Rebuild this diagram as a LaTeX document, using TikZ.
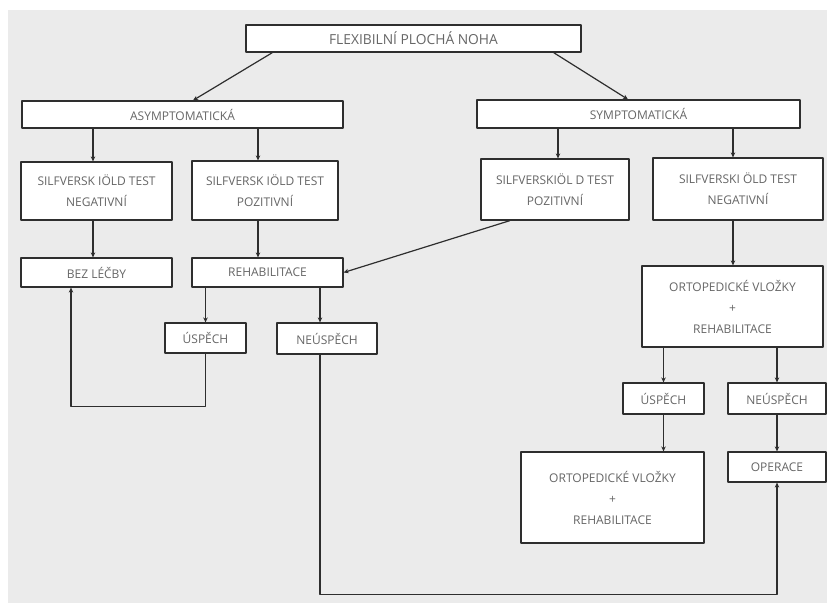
\documentclass[tikz,border=0pt]{standalone}
\usepackage{fontspec}
\setmainfont{Open Sans}
\usetikzlibrary{arrows.meta}
\definecolor{bg}{HTML}{EBEBEB}
\definecolor{txt}{HTML}{666666}
\definecolor{ln}{HTML}{2E2E2E}
\begin{document}
\begin{tikzpicture}[x=1pt,y=-1pt,line join=round,line width=1.2pt,>={Stealth[length=5pt,width=4.5pt]}]
	\tikzset{every node/.style={font=\fontsize{12}{21}\selectfont,text=txt},
		box/.style={draw=ln,fill=white,line width=1.2pt,align=center,inner sep=0pt},
		arr/.style={->,draw=ln}}
	\def\bx(#1,#2,#3,#4,#5)#6{\node[box,minimum width=#4pt,minimum height=#5pt] (#1) at (#2,#3) {#6};}
				\useasboundingbox (0,0) rectangle (827,606);
				\fill[bg] (8,10) rectangle (827,603);
	% boxes
	\bx(top,413.5,38.5,335,27){\fontsize{13.8}{21}\selectfont FLEXIBILNÍ PLOCHÁ NOHA}
	\bx(asym,182.5,114.5,321,27){ASYMPTOMATICKÁ}
	\bx(sym,638.5,114,323,28){SYMPTOMATICKÁ}
	\bx(negL,96.5,191,151,58){SILFVERSK IÖLD TEST\\NEGATIVNÍ}
	\bx(pozL,265,190.5,146,59){SILFVERSK IÖLD TEST\\POZITIVNÍ}
	\bx(pozR,555,189.5,148,61){SILFVERSKIÖL D TEST\\POZITIVNÍ}
	\bx(negR,738,189,170,62){SILFVERSKI ÖLD TEST\\NEGATIVNÍ}
	\bx(bez,96.5,272.5,151,29){BEZ LÉČBY}
	\bx(rehab,267.5,272.5,151,29){REHABILITACE}
	\bx(ortoA,732.5,306.5,181,81){ORTOPEDICKÉ VLOŽKY\\+\\REHABILITACE}
	\bx(uspL,205.5,338,81,30){ÚSPĚCH}
	\bx(neuspL,327,338.5,100,31){NEÚSPĚCH}
	\bx(uspR,663.5,398.5,81,31){ÚSPĚCH}
	\bx(neuspR,777,398.5,98,31){NEÚSPĚCH}
	\bx(ortoB,612.5,497.5,183,91){ORTOPEDICKÉ VLOŽKY\\+\\REHABILITACE}
	\bx(oper,777,467,98,30){OPERACE}
	% arrows
	\draw[arr] ([xshift=27pt]top.south west)--([xshift=10.5pt]asym.north);
	\draw[arr] ([xshift=-28pt]top.south east)--([xshift=-10.5pt]sym.north);
	\draw[arr] ([xshift=-3.5pt]negL.north |- asym.south)--([xshift=-3.5pt]negL.north);
	\draw[arr] ([xshift=-7pt]pozL.north |- asym.south)--([xshift=-7pt]pozL.north);
	\draw[arr] ([xshift=3pt]pozR.north |- sym.south)--([xshift=3pt]pozR.north);
	\draw[arr] ([xshift=-5pt]negR.north |- sym.south)--([xshift=-5pt]negR.north);
	\draw[arr] ([xshift=-3.5pt]negL.south)--([xshift=-3.5pt]bez.north);
	\draw[arr] ([xshift=-7pt]pozL.south)--([xshift=-9.5pt]rehab.north);
	\draw[arr] ([xshift=-45pt]pozR.south)--(rehab.east);
	\draw[arr] ([xshift=-5pt]negR.south)--([xshift=0.5pt]ortoA.north);
	\draw[arr] (uspL.north |- rehab.south)--(uspL.north);
	\draw[arr] ([xshift=-7pt]neuspL.north |- rehab.south)--([xshift=-7pt]neuspL.north);
	\draw[arr] (uspR.north |- ortoA.south)--(uspR.north);
	\draw[arr] (neuspR.north |- ortoA.south)--(neuspR.north);
	\draw[arr] (uspR.south)--(uspR.south |- ortoB.north);
	\draw[arr] (neuspR.south)--(oper.north);
	\draw[arr] (uspL.south)--++(0,53)-|([xshift=-25.5pt]bez.south);
	\draw[arr] ([xshift=-7pt]neuspL.south)--([xshift=-7pt,yshift=-240pt]neuspL.south)-|(oper.south);
\end{tikzpicture}
\end{document}
